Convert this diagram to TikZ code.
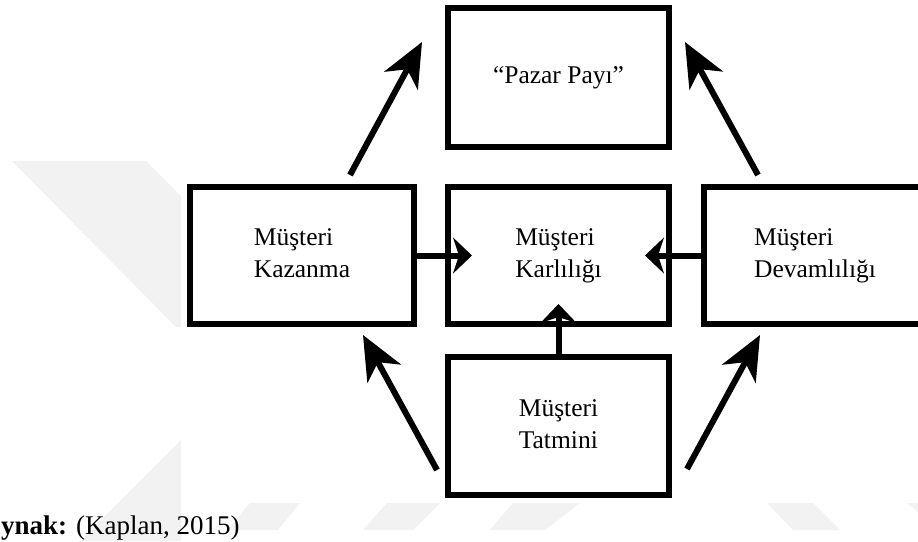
\documentclass[tikz,border=0pt]{standalone}
\usepackage{fontspec}
\setmainfont{Liberation Serif}
\usetikzlibrary{arrows.meta}
\begin{document}
\begin{tikzpicture}[x=1pt,y=-1pt,
  box/.style={draw=black, line width=6pt, fill=white, inner sep=0pt,
    align=left, font=\fontsize{25.5}{32}\selectfont},
  flow/.style={line width=6pt, -{Stealth[length=19pt,width=36pt,inset=6pt]}},
  lift/.style={line width=6pt, -{Stealth[length=44pt,width=38pt,inset=13pt]}},
  wmshape/.style={fill=black!5, draw=none}]
\useasboundingbox (0,0) rectangle (918,541);
\fill[white] (0,0) rectangle (918,541);

% faint background stripes
\fill[wmshape] (12,161) -- (146,161) -- (181,196) -- (181,327) -- (176,327) -- cycle;
\fill[wmshape] (181,440) -- (181,541) -- (80,541) -- cycle;
\fill[wmshape] (228,530) -- (278,530) -- (300,503) -- (250,503) -- cycle;
\fill[wmshape] (363,530) -- (413,530) -- (440,503) -- (387,503) -- cycle;
\fill[wmshape] (490,530) -- (545,530) -- (580,503) -- (513,503) -- cycle;
\fill[wmshape] (767,503) -- (813,503) -- (840,530) -- (793,530) -- cycle;
\fill[wmshape] (907,503) -- (918,503) -- (918,512) -- cycle;

% boxes
\node[box, minimum width=221pt, minimum height=139pt] (P) at (558.5,77.5) {\strut``Pazar Payı''};
\node[box, minimum width=224pt, minimum height=137pt] (K) at (302,255.5) {\strut Müşteri\\\strut Kazanma};
\node[box, minimum width=221pt, minimum height=137pt] (L) at (558.5,255.5) {\strut Müşteri\\\strut Karlılığı};
\node[box, minimum width=222pt, minimum height=137pt] (D) at (815,255.5) {\strut Müşteri\\\strut Devamlılığı};
\node[box, minimum width=221pt, minimum height=138pt] (T) at (558.5,426) {\strut Müşteri\\\strut Tatmini};

% straight arrows into the centre box
\draw[flow] (K.east) -- ([xshift=27pt]L.west);
\draw[flow] (D.west) -- ([xshift=-27pt]L.east);
\draw[flow] (T.north) -- ([yshift=23pt]L.south);

% diagonal arrows
\draw[lift] ([shift={(48,-9)}]K.north) -- ([shift={(-23,37)}]P.north west);
\draw[lift] ([shift={(57,-9)}]D.north west) -- ([shift={(13,37)}]P.north east);
\draw[lift] ([shift={(-8,116)}]T.north west) -- ([shift={(61,8)}]K.south);
\draw[lift] ([shift={(15,115)}]T.north east) -- ([shift={(59,8)}]D.south west);

% source line
\node[anchor=base west, inner sep=0pt, font=\fontsize{27}{32}\selectfont] (src) at (1,534)
  {\textbf{ynak:} (Kaplan, 2015)};
\end{tikzpicture}
\end{document}
